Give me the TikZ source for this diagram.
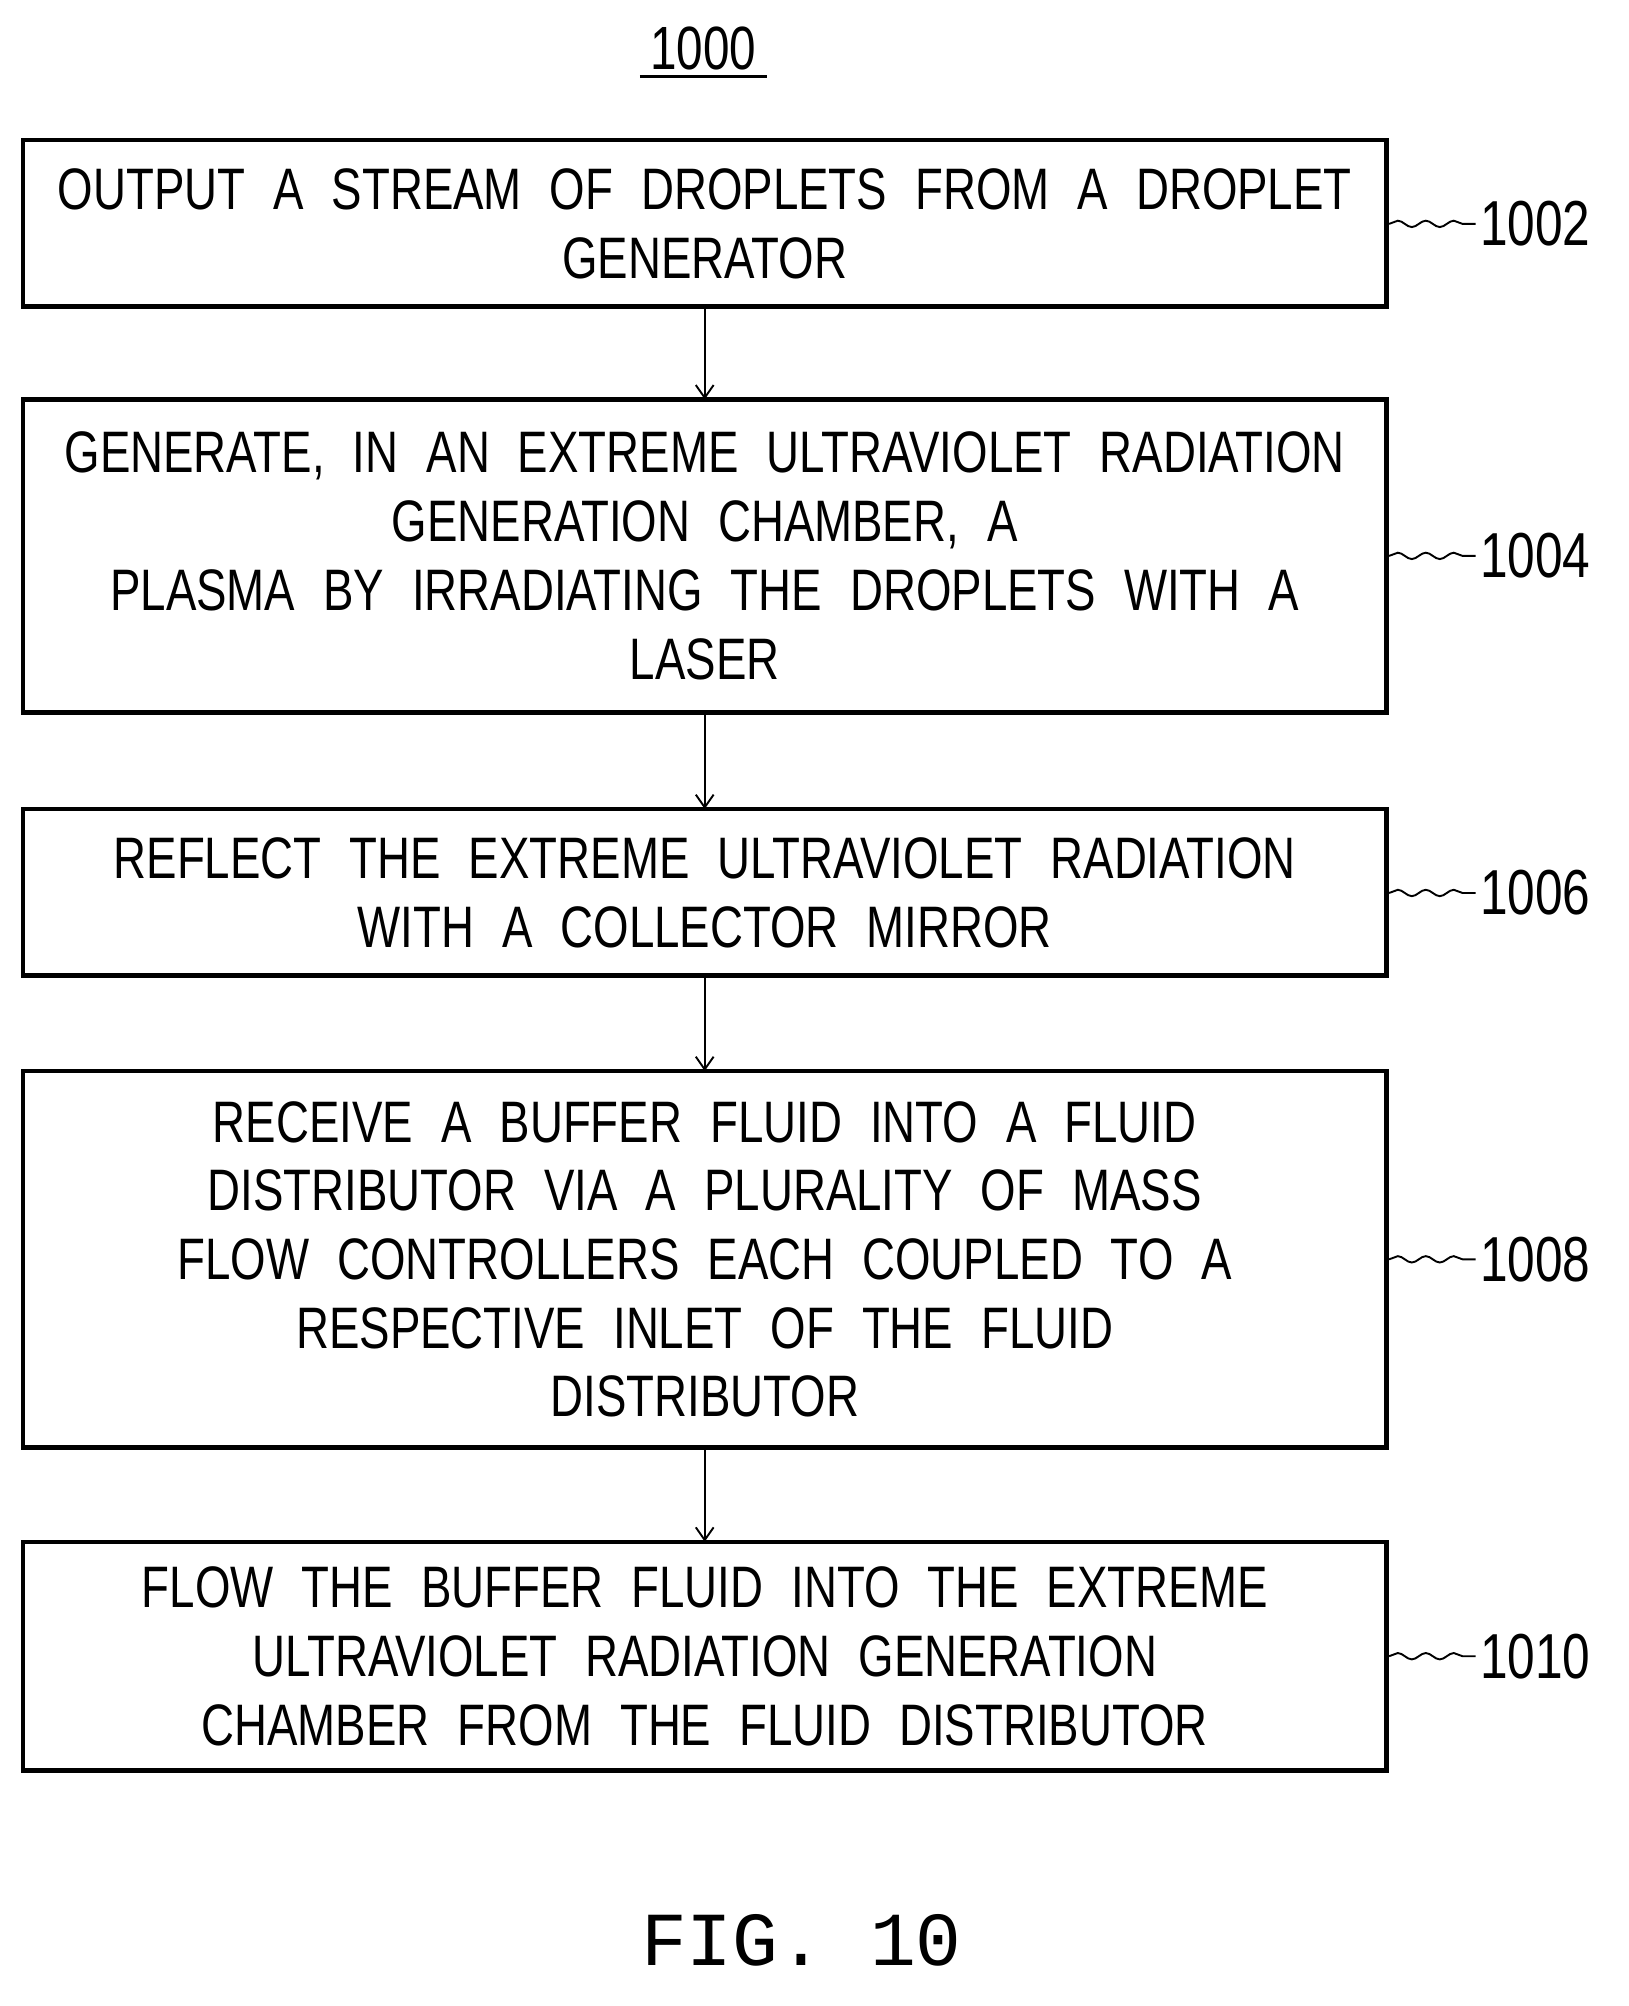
\documentclass[tikz,border=0pt]{standalone}
\usepackage{fontspec}
\setmainfont{Liberation Sans}[FakeStretch=0.78]
\newfontfamily\figfont{Liberation Mono}
\usetikzlibrary{decorations.pathmorphing,arrows.meta}
\newcommand\wideskip{\spaceskip=22pt plus 4pt\relax}
\begin{document}
\begin{tikzpicture}[x=1pt,y=-1pt,
  stepbox/.style={inner sep=0pt,align=center,
    font=\fontsize{46}{54}\selectfont\wideskip},
  lbl/.style={font=\fontsize{50}{54}\selectfont,anchor=west},
  wav/.style={line width=1.5pt,decorate,decoration={snake,amplitude=2.5pt,segment length=22pt}},
  arr/.style={line width=1.5pt,-{Straight Barb[length=10pt,width=14pt]}}]
\useasboundingbox (0,0) rectangle (1280,1577);
\node[font=\fontsize{48}{54}\selectfont] (t) at (553,38) {1000};
\draw[line width=2pt] (503,60) -- (603,60);
\newcommand\mkbox[6]{%
  \draw[line width=3.5pt] (18,#2) rectangle (1090,#3);
  \node[stepbox] (#1) at (554,#6) {#4};
  \coordinate (#1r) at (1092,#6);
  \node[lbl] (#1l) at (1160,#6) {#5};
  \draw[wav] (#1r) -- (#1l.west);}
\mkbox{b1}{110}{241}{OUTPUT A STREAM OF DROPLETS FROM A DROPLET\\GENERATOR}{1002}{176}
\mkbox{b2}{314}{560}{GENERATE, IN AN EXTREME ULTRAVIOLET RADIATION\\GENERATION CHAMBER, A\\PLASMA BY IRRADIATING THE DROPLETS WITH A\\LASER}{1004}{437}
\mkbox{b3}{636}{767}{REFLECT THE EXTREME ULTRAVIOLET RADIATION\\WITH A COLLECTOR MIRROR}{1006}{702}
\mkbox{b4}{842}{1138}{RECEIVE A BUFFER FLUID INTO A FLUID\\DISTRIBUTOR VIA A PLURALITY OF MASS\\FLOW CONTROLLERS EACH COUPLED TO A\\RESPECTIVE INLET OF THE FLUID\\DISTRIBUTOR}{1008}{990}
\mkbox{b5}{1212}{1392}{FLOW THE BUFFER FLUID INTO THE EXTREME\\ULTRAVIOLET RADIATION GENERATION\\CHAMBER FROM THE FLUID DISTRIBUTOR}{1010}{1302}
\coordinate (a1) at (554,241); \coordinate (a2) at (554,314);
\coordinate (a3) at (554,560); \coordinate (a4) at (554,636);
\coordinate (a5) at (554,767); \coordinate (a6) at (554,842);
\coordinate (a7) at (554,1138); \coordinate (a8) at (554,1212);
\draw[arr] (a1) -- (a2); \draw[arr] (a3) -- (a4);
\draw[arr] (a5) -- (a6); \draw[arr] (a7) -- (a8);
\node[font=\figfont\fontsize{60}{66}\selectfont] (fig) at (630,1525) {FIG. 10};
\end{tikzpicture}
\end{document}
